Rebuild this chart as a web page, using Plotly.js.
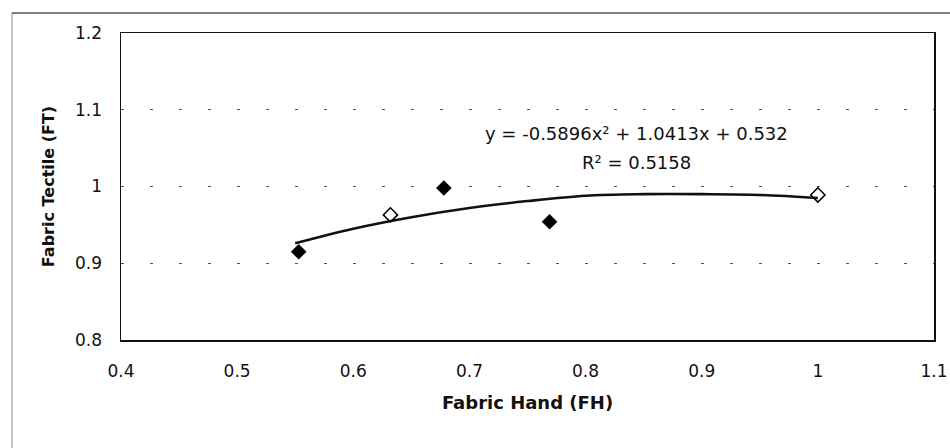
<!DOCTYPE html>
<html>
<head>
<meta charset="utf-8">
<script src="https://cdn.plot.ly/plotly-3.0.1.min.js"></script>
<style>body{margin:0;background:#fff}#chart{width:950px;height:448px}</style>
</head>
<body>
<div id="chart"></div>
<script>
// Observed data points (Fabric Hand vs Fabric Tectile)
const filledX = [0.553, 0.678, 0.769];
const filledY = [0.915, 0.998, 0.954];
const openX = [0.632, 1.0];
const openY = [0.963, 0.989];
// Trendline
const trendX = [0.55, 0.60, 0.65, 0.70, 0.75, 0.80, 0.85, 0.90, 0.95, 1.00];
const trendY = [0.926, 0.945, 0.960, 0.972, 0.981, 0.988, 0.990, 0.990, 0.989, 0.985];
const eqText = "y = -0.5896x² + 1.0413x + 0.532";
const r2Text = "R² = 0.5158";
const xTicks = [0.4, 0.5, 0.6, 0.7, 0.8, 0.9, 1, 1.1];
const yTicks = [0.8, 0.9, 1, 1.1, 1.2];

const PW = 950 - 121 - 16;

const traces = [
  {x: trendX, y: trendY, mode: 'lines', line: {color: '#111', width: 2.6, shape: 'spline'}, hoverinfo: 'skip'},
  {x: filledX, y: filledY, mode: 'markers', marker: {symbol: 'diamond', size: 12, color: '#000'}},
  {x: openX, y: openY, mode: 'markers', marker: {symbol: 'diamond-open', size: 11, color: '#000', line: {width: 1.5, color: '#000'}}}
];

const layout = {
  width: 950, height: 448,
  margin: {l: 121, r: 16, t: 33, b: 108},
  showlegend: false,
  paper_bgcolor: '#fff', plot_bgcolor: '#fff',
  font: {family: 'DejaVu Sans, Arial, sans-serif', color: '#111', size: 17},
  xaxis: {
    range: [0.4, 1.1], tickvals: xTicks, ticktext: xTicks.map(String),
    showgrid: false, zeroline: false,
    showline: true, linecolor: '#111', linewidth: 1.5, mirror: true,
    ticks: '', ticklabelstandoff: 15, ticklabeloverflow: 'allow',
    title: {text: '<b>Fabric Hand (FH)</b>', font: {size: 18}, standoff: 16}
  },
  yaxis: {
    range: [0.8, 1.2], tickvals: yTicks, ticktext: yTicks.map(String),
    showgrid: true, gridcolor: '#555', gridwidth: 1, griddash: '3px,26px',
    zeroline: false,
    showline: true, linecolor: '#111', linewidth: 1.5, mirror: true,
    ticks: '', ticklabelstandoff: 14,
    title: {text: '<b>Fabric Tectile (FT)</b>', font: {size: 16}, standoff: 16}
  },
  annotations: [
    {xref: 'paper', yref: 'paper', x: (636-121)/PW, y: (340-133)/307, text: eqText, showarrow: false, font: {size: 18}, xanchor: 'center', yanchor: 'middle'},
    {xref: 'paper', yref: 'paper', x: (636-121)/PW, y: (340-162)/307, text: r2Text, showarrow: false, font: {size: 18}, xanchor: 'center', yanchor: 'middle'}
  ],
  shapes: [
    {type: 'line', xref: 'paper', yref: 'paper', x0: (12-121)/PW, x1: (12-121)/PW, y0: (340-13)/307, y1: (340-448)/307, line: {color: '#888', width: 1}},
    {type: 'line', xref: 'paper', yref: 'paper', x0: (12-121)/PW, x1: (950-121)/PW, y0: (340-13)/307, y1: (340-13)/307, line: {color: '#555', width: 1.5}}
  ]
};

Plotly.newPlot('chart', traces, layout, {displayModeBar: false, staticPlot: true});
</script>
</body>
</html>
